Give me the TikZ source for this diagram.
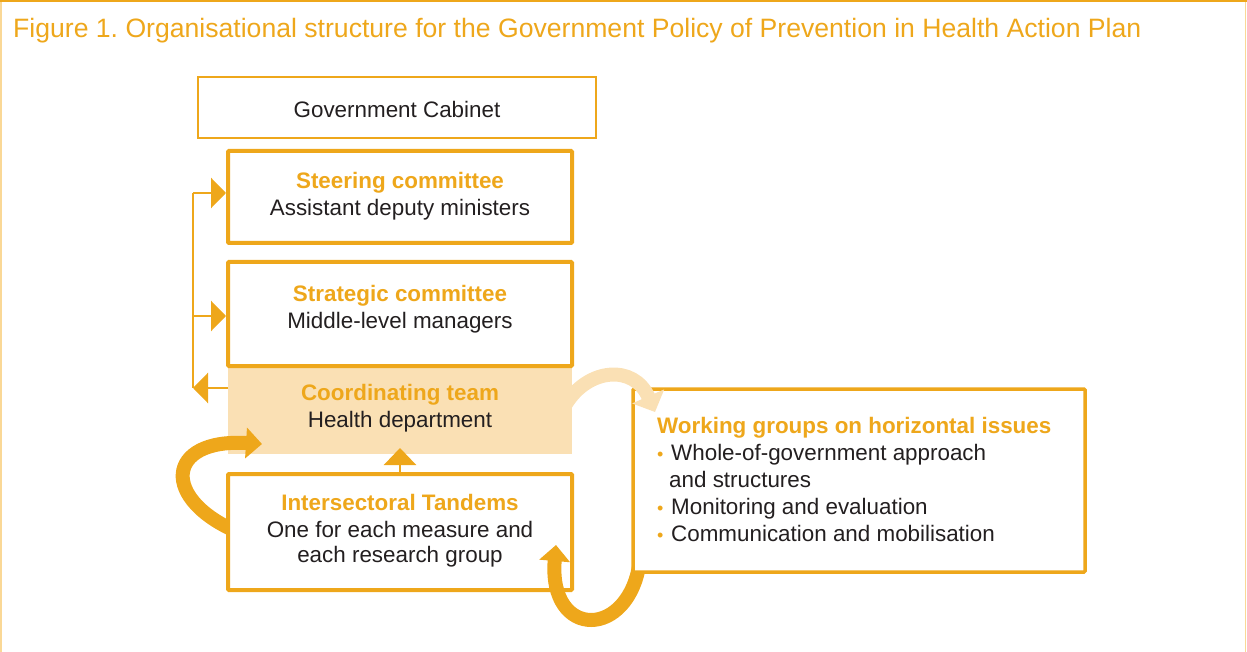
\documentclass[tikz,border=0pt]{standalone}
\usepackage{fontspec}
\setmainfont{Liberation Sans}
\usetikzlibrary{arrows.meta}
\frenchspacing
\definecolor{orng}{RGB}{238,167,27}
\definecolor{peach}{RGB}{250,224,180}
\definecolor{framelt}{RGB}{250,216,150}
\definecolor{ink}{RGB}{35,31,32}
\tikzset{
  box/.style={draw=orng, fill=white, line width=4pt, rounded corners=1pt, inner sep=0pt},
  thinbox/.style={draw=orng, line width=2pt, inner sep=0pt},
  head/.style={text=orng, font=\fontsize{22.4}{27}\selectfont\bfseries, inner sep=0pt},
  body/.style={text=ink, font=\fontsize{22.4}{27}\selectfont, inner sep=0pt},
  link/.style={draw=orng, line width=2.5pt},
  tri/.style={-{Triangle[length=15pt,width=30pt]}},
  fat/.style={draw=orng, line width=14pt, -{Triangle[length=16pt,width=30pt]}},
  fatlight/.style={draw=peach, line width=14pt, -{Triangle[length=17pt,width=34pt]}},
}
\begin{document}
\begin{tikzpicture}[x=1pt,y=-1pt]
\useasboundingbox (0,0) rectangle (1247,652);
% frame
\draw[framelt, line width=1.5pt] (0.75,652) -- (0.75,1) (1245.5,1) -- (1245.5,652);
\draw[orng, line width=1.5pt] (0,1) -- (1247,1);
\node[anchor=base west, text=orng, font=\fontsize{26.6}{30}\selectfont, inner sep=0pt] (title) at (13,37.5)
  {Figure 1. Organisational structure for the Government Policy of Prevention in Health Action Plan};

% coordinating team (filled)
\fill[peach] (228,366) rectangle (572,454);
\node[head] (coordh) at (400,394.5) {Coordinating team};
\node[body] (coordb) at (400,421.5) {Health department};

% boxes
\node[thinbox, minimum width=398pt, minimum height=61pt] (cab) at (397,107.5) {};
\node[body] (cabt) at (397,109) {Government Cabinet};

\node[box, minimum width=344pt, minimum height=92pt] (steer) at (400,197) {};
\node[head] (steerh) at (400,182.5) {Steering committee};
\node[body] (steerb) at (400,209.5) {Assistant deputy ministers};

\node[box, minimum width=344pt, minimum height=104pt] (strat) at (400,314) {};
\node[head] (strath) at (400,295.5) {Strategic committee};
\node[body] (stratb) at (400,322.5) {Middle-level managers};

% loop from the tandems back into the coordinating team
\draw[fat] (240,533) .. controls (160,500) and (165,438) .. (262,444);

\node[box, minimum width=344pt, minimum height=116pt] (tand) at (400,532) {};
\node[head] (tandh) at (400,502.5) {Intersectoral Tandems};
\node[body] (tandb1) at (400,529.5) {One for each measure and};
\node[body] (tandb2) at (400,556.5) {each research group};

% loop from the working groups into the tandems
\draw[fat] (640,560) .. controls (630,640) and (548,640) .. (556,545);

\node[box, line width=3.5pt, minimum width=452pt, minimum height=183pt] (work) at (859,480.5) {};
\node[head, anchor=base west] (workh) at (657,433) {Working groups on horizontal issues};
\foreach \y/\t [count=\i] in {460/{Whole-of-government approach},514/{Monitoring and evaluation},541/{Communication and mobilisation}}{
  \node[text=orng, font=\fontsize{18}{20}\selectfont, anchor=base west, inner sep=0pt] (bul\i) at (657,\y) {•};
  \node[body, anchor=base west] (item\i) at (671,\y) {\t};
}
\node[body, anchor=base west] (item1b) at (669,487) {and structures};

% coordinating team out to the working groups
\draw[fatlight] (566,404) .. controls (588,368) and (634,364) .. (655,412);

% left feedback connector
\coordinate (lnTop) at (193,193);
\coordinate (lnMid) at (193,316);
\coordinate (lnBot) at (193,388);
\draw[link] (lnTop) -- (lnBot);
\draw[link, tri] (lnTop) -- (steer.west |- lnTop);
\draw[link, tri] (lnMid) -- (strat.west |- lnMid);
\draw[link, tri] (228,388) -- (lnBot);

% tandems up to coordinating team
\draw[link, -{Triangle[length=17pt,width=32pt]}] (tand.north) -- (400,448);
\end{tikzpicture}
\end{document}
